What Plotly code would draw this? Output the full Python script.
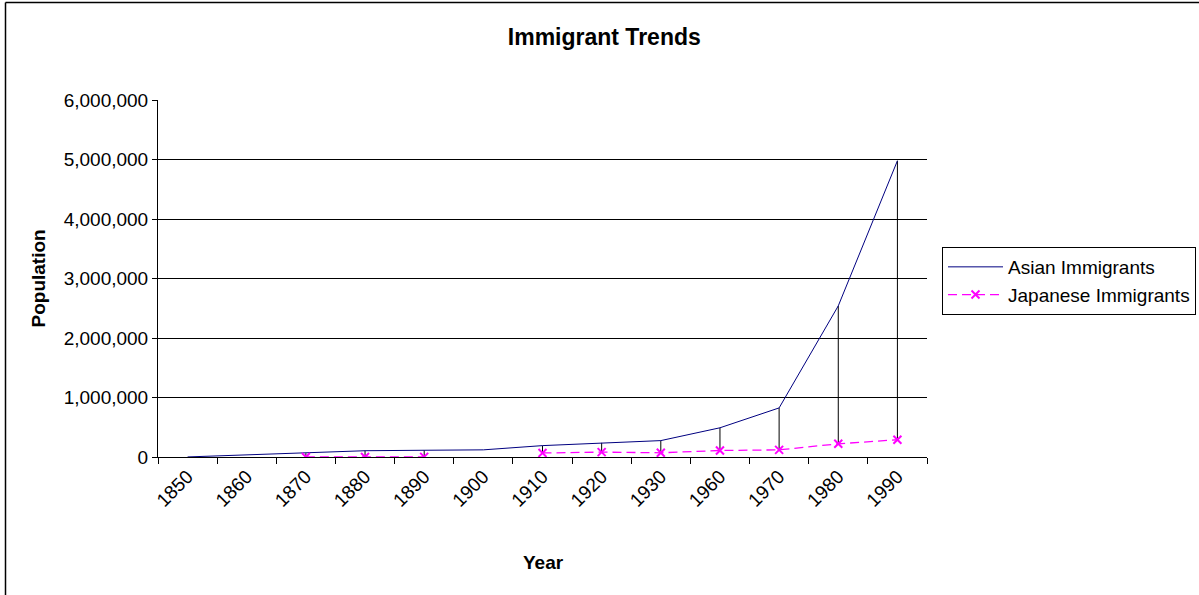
import plotly.graph_objects as go

years = ["1850", "1860", "1870", "1880", "1890", "1900", "1910",
         "1920", "1930", "1960", "1970", "1980", "1990"]
asian = [1135, 34933, 63042, 105613, 113383, 120248, 191484,
         237950, 275665, 490996, 824887, 2539777, 4979037]
japanese = [None, None, 55, 401, 2292, None, 67744,
            81502, 70993, 109175, 120235, 221794, 290128]

FONT = "Liberation Sans, Arial, sans-serif"

# high-low lines between the two series
hl_x, hl_y = [], []
for yr, a, j in zip(years, asian, japanese):
    if a is not None and j is not None:
        hl_x += [yr, yr, None]
        hl_y += [a, j, None]

fig = go.Figure()
fig.add_trace(go.Scatter(x=hl_x, y=hl_y, mode="lines",
                         line=dict(color="#000000", width=1),
                         showlegend=False, hoverinfo="skip"))
fig.add_trace(go.Scatter(x=years, y=asian, mode="lines", name="Asian Immigrants",
                         line=dict(color="#000080", width=1)))
fig.add_trace(go.Scatter(x=years, y=japanese, mode="lines+markers",
                         name="Japanese Immigrants", connectgaps=False,
                         line=dict(color="#FF00FF", width=1.3, dash="9px,5px"),
                         marker=dict(symbol="x-thin", size=8,
                                     line=dict(color="#FF00FF", width=2))))

fig.update_layout(
    width=1199, height=595,
    margin=dict(l=158, r=272, t=100, b=138, autoexpand=False),
    paper_bgcolor="white", plot_bgcolor="white",
    font=dict(family=FONT, color="black", size=19),
    title=dict(text="<b>Immigrant Trends</b>", x=0.504, xanchor="center",
               y=1 - 37 / 595, yanchor="middle",
               font=dict(family=FONT, size=23, color="black")),
    showlegend=True,
    legend=dict(x=(942 - 158) / 769, y=(457 - 247) / 357, xanchor="left", yanchor="top",
                bordercolor="black", borderwidth=1, bgcolor="white",
                font=dict(family=FONT, size=19, color="black"),
                itemwidth=55, tracegroupgap=0),
    xaxis=dict(type="category", categoryorder="array", categoryarray=years,
               range=[-0.5, 12.5], tickson="boundaries", ticks="outside",
               ticklen=6, tickcolor="black", showline=True, linecolor="black",
               linewidth=1, showgrid=False, tickangle=-45, zeroline=False,
               tickfont=dict(family=FONT, size=19, color="black")),
    yaxis=dict(range=[0, 6000000], dtick=1000000, tickformat=",",
               ticks="outside", ticklen=5, tickcolor="black",
               showline=True, linecolor="black", linewidth=1,
               showgrid=True, gridcolor="black", gridwidth=1, zeroline=False,
               tickfont=dict(family=FONT, size=19, color="black")),
    annotations=[
        dict(text="<b>Population</b>", x=(38 - 158) / 769, y=0.5,
             xref="paper", yref="paper", textangle=-90, showarrow=False,
             xanchor="center", yanchor="middle",
             font=dict(family=FONT, size=19, color="black")),
        dict(text="<b>Year</b>", x=(543 - 158) / 769, y=(457 - 562) / 357,
             xref="paper", yref="paper", showarrow=False,
             xanchor="center", yanchor="middle",
             font=dict(family=FONT, size=19, color="black")),
    ],
    shapes=[
        dict(type="line", xref="paper", yref="paper",
             x0=(5.5 - 158) / 769, x1=(1199 - 158) / 769,
             y0=(457 - 2.5) / 357, y1=(457 - 2.5) / 357,
             line=dict(color="black", width=1.5), layer="above"),
        dict(type="line", xref="paper", yref="paper",
             x0=(5.5 - 158) / 769, x1=(5.5 - 158) / 769,
             y0=(457 - 2.5) / 357, y1=(457 - 595) / 357,
             line=dict(color="black", width=1.5), layer="above"),
    ],
)

fig.write_html("out.html")
